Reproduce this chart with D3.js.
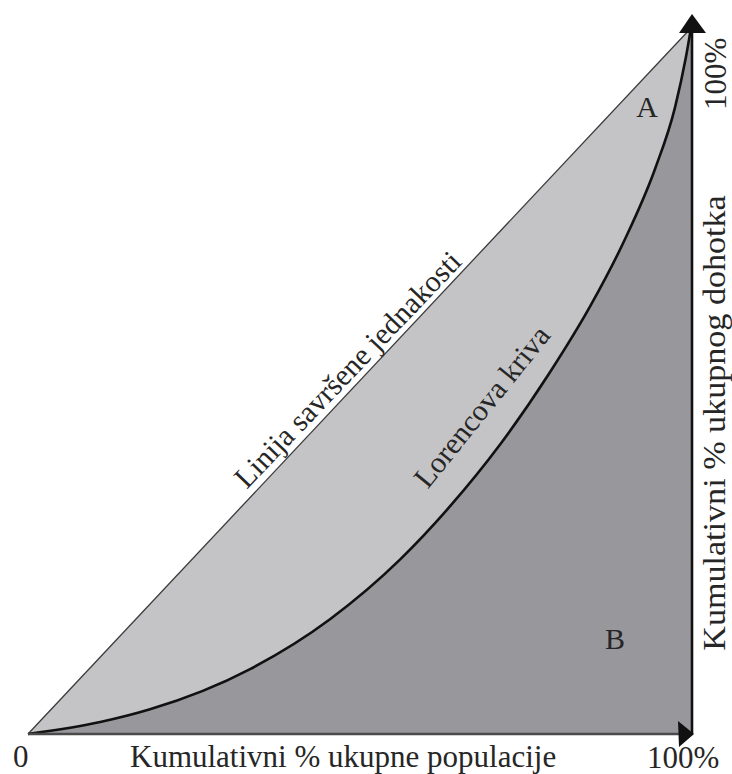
<!DOCTYPE html>
<html><head><meta charset="utf-8">
<script src="https://cdn.jsdelivr.net/npm/d3@7"></script>
<style>body{margin:0;background:#fff} svg{display:block} text{font-family:"Liberation Serif","DejaVu Serif",serif}</style>
</head><body><svg id="c" width="732" height="774"></svg>
<script>
// Lorenz curve: cumulative % of population vs cumulative % of income
const population = [0, 10.9, 18.4, 33.5, 45.6, 56.1, 63.7, 71.2, 78.7, 84.8, 90.0, 94.6, 97.6, 99.2, 100];
const income     = [0, 1.7, 3.5, 9.2, 16.3, 24.7, 32.3, 41.0, 51.2, 60.6, 70.0, 80.1, 88.8, 95.7, 100];
const tickLabels = ["0", "100%"];
const xTitle = "Kumulativni % ukupne populacije";
const yTitle = "Kumulativni % ukupnog dohotka";
const equalityLabel = "Linija savršene jednakosti";
const lorenzLabel = "Lorencova kriva";
const regionLabels = ["A", "B"];

const svg = d3.select("#c");
const x = d3.scaleLinear().domain([0, 100]).range([28, 691]);
const y = d3.scaleLinear().domain([0, 100]).range([734, 28]);
const pts = population.map((p, i) => ({p, v: income[i]}));
const txtCol = "#262626";
const curve = d3.curveMonotoneX;

// region A: between equality line and Lorenz curve
svg.append("path").datum(pts)
  .attr("d", d3.area().curve(curve)
    .x(d => x(d.p)).y0(d => y(d.v)).y1(d => y(d.p)))
  .attr("fill", "#c4c4c6");
// region B: below Lorenz curve
svg.append("path").datum(pts)
  .attr("d", d3.area().curve(curve)
    .x(d => x(d.p)).y0(y(0)).y1(d => y(d.v)))
  .attr("fill", "#98979c");

// equality line
svg.append("line")
  .attr("x1", x(0)).attr("y1", y(0)).attr("x2", x(100)).attr("y2", y(100))
  .attr("stroke", "#3a3a3a").attr("stroke-width", 1.3);
// Lorenz curve
svg.append("path").datum(pts)
  .attr("d", d3.line().curve(curve).x(d => x(d.p)).y(d => y(d.v)))
  .attr("fill", "none").attr("stroke", "#111").attr("stroke-width", 2.6);

// axes
svg.append("line")
  .attr("x1", x(0)).attr("y1", y(0)).attr("x2", x(100)).attr("y2", y(0))
  .attr("stroke", "#4a4a4a").attr("stroke-width", 2.6);
svg.append("line")
  .attr("x1", x(100) + 1).attr("y1", y(0)).attr("x2", x(100) + 1).attr("y2", y(100) + 4)
  .attr("stroke", "#111").attr("stroke-width", 2.6);
// arrow heads
const tx = x(100) + 1, ty = y(100);
svg.append("path")
  .attr("d", `M${tx},${ty - 14}L${tx + 14},${ty + 5}L${tx - 13},${ty + 5}Z`)
  .attr("fill", "#111");
const bx = x(100), by = y(0);
svg.append("path")
  .attr("d", `M${bx + 3},${by}L${bx - 13},${by - 13}L${bx - 12},${by + 13}Z`)
  .attr("fill", "#111");

function txt(sel, size) { return sel.attr("font-size", size).attr("fill", txtCol); }
// tick labels
txt(svg.append("text").attr("x", 13).attr("y", 767).text(tickLabels[0]), 31);
txt(svg.append("text").attr("x", 647).attr("y", 768).text(tickLabels[1]), 31);
txt(svg.append("text").attr("transform", `translate(726,110) rotate(-90)`).text(tickLabels[1]), 31);

// axis titles
txt(svg.append("text").attr("x", 130).attr("y", 767).text(xTitle), 31);
txt(svg.append("text").attr("transform", `translate(725,423) scale(1,1.1) rotate(-90)`)
  .attr("text-anchor", "middle").text(yTitle), 31);

// curve labels along lines
function along(label, u0, v0, u1, v1, size) {
  const ax = x(u0), ay = y(v0), ex = x(u1), ey = y(v1);
  const ang = Math.atan2(ey - ay, ex - ax) * 180 / Math.PI;
  txt(svg.append("text").attr("transform", `translate(${ax},${ay}) rotate(${ang})`).text(label), size);
}
along(equalityLabel, 33.0, 34.6, 65.6, 66.7, 30);
along(lorenzLabel, 60.3, 34.6, 79.0, 56.4, 30);

// region labels
txt(svg.append("text").attr("x", 647).attr("y", 117).attr("text-anchor", "middle").text(regionLabels[0]), 30);
txt(svg.append("text").attr("x", 615).attr("y", 649).attr("text-anchor", "middle").text(regionLabels[1]), 30);
</script></body></html>
